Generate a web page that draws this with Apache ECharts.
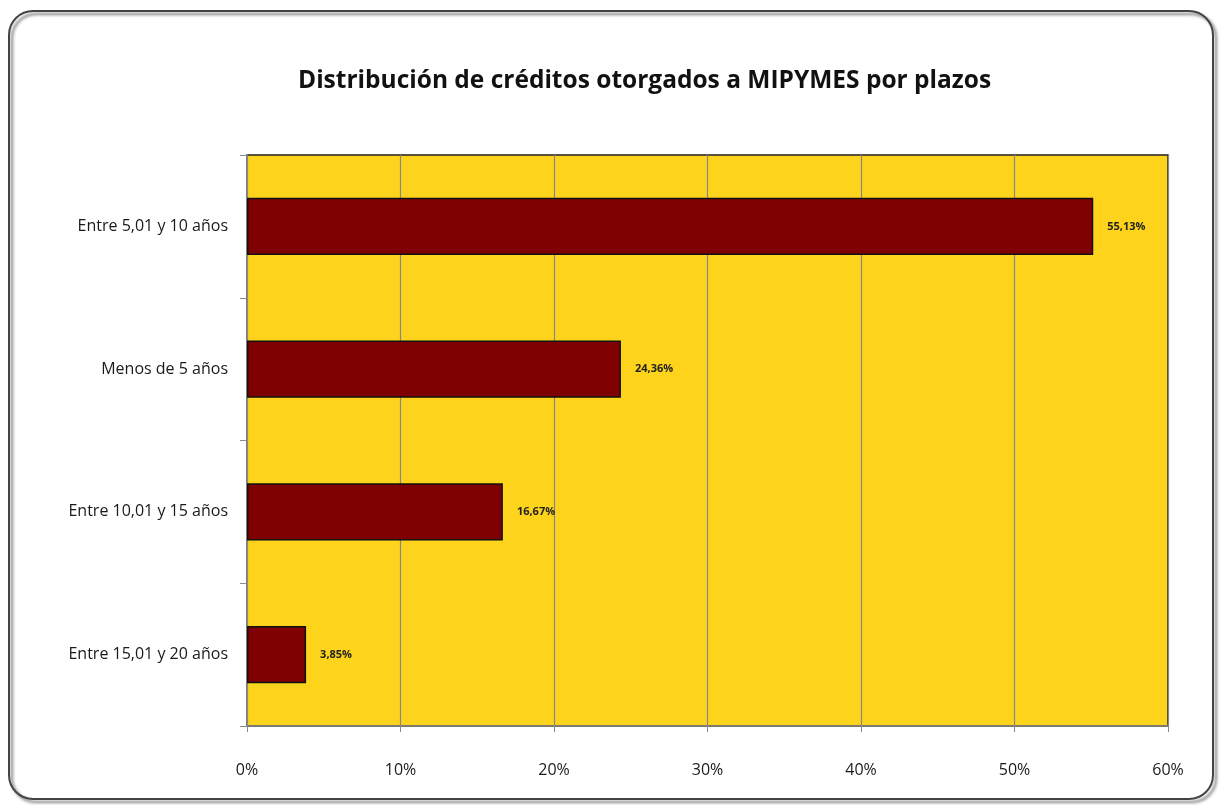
<!DOCTYPE html>
<html>
<head>
<meta charset="utf-8">
<script src="https://cdn.jsdelivr.net/npm/echarts@6/dist/echarts.min.js"></script>
<style>
html,body{margin:0;padding:0;background:#fff;}
#c{width:1222px;height:805px;}
</style>
</head>
<body>
<div id="c"></div>
<script>
var categories = ['Entre 5,01 y 10 años', 'Menos de 5 años', 'Entre 10,01 y 15 años', 'Entre 15,01 y 20 años'];
var values = [55.13, 24.36, 16.67, 3.85];
var titleText = 'Distribución de créditos otorgados a MIPYMES por plazos';

var chart = echarts.init(document.getElementById('c'));
chart.setOption({
  animation: false,
  backgroundColor: '#fff',
  title: {
    text: titleText,
    left: 293,
    top: 64,
    textStyle: { fontFamily: 'Open Sans', fontWeight: 'bold', fontSize: 24.5, color: '#111' }
  },
  graphic: [
    { type: 'rect', z: 0, shape: { x: 9, y: 11, width: 1204, height: 788, r: 24 },
      style: { fill: 'none', stroke: '#444', lineWidth: 2,
               shadowColor: 'rgba(0,0,0,0.55)', shadowBlur: 3, shadowOffsetX: 3, shadowOffsetY: 3 } }
  ],
  grid: {
    left: 247, right: 54, top: 155, bottom: 79,
    show: true, backgroundColor: '#FDD31C', borderColor: '#222', borderWidth: 1.5
  },
  xAxis: {
    type: 'value', min: 0, max: 60, interval: 10,
    axisLabel: { formatter: '{value}%', fontFamily: 'Open Sans', fontSize: 16, color: '#1a1a1a', margin: 36 },
    axisLine: { show: true, lineStyle: { color: '#888', width: 1.5 } },
    axisTick: { show: true, length: 6, lineStyle: { color: '#888' } },
    splitLine: { show: true, lineStyle: { color: '#888', width: 1.2 } }
  },
  yAxis: {
    type: 'category', inverse: true, data: categories,
    axisLabel: { fontFamily: 'Open Sans', fontSize: 16, color: '#1a1a1a', margin: 19 },
    axisLine: { show: true, lineStyle: { color: '#888', width: 1.5 } },
    axisTick: { show: true, length: 7, lineStyle: { color: '#888' } },
    splitLine: { show: false }
  },
  series: [{
    type: 'bar', data: values, barWidth: '40%',
    itemStyle: { color: '#7F0000', borderColor: '#111', borderWidth: 1.5 },
    label: {
      show: true, position: 'right', distance: 14,
      formatter: function (p) { return p.value.toFixed(2).replace('.', ',') + '%'; },
      fontFamily: 'Open Sans', fontSize: 11, fontWeight: 'bold', color: '#222'
    }
  }]
});
</script>
</body>
</html>
